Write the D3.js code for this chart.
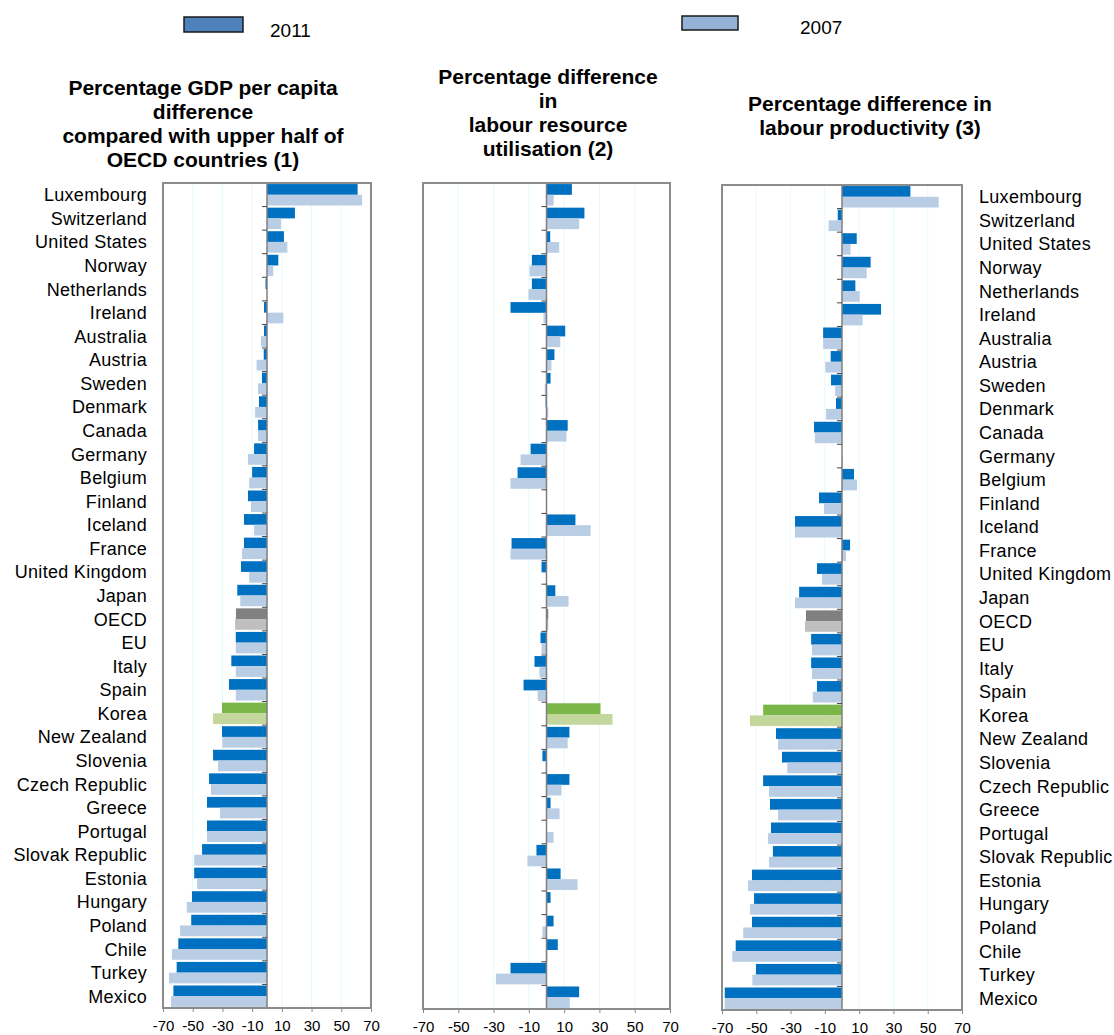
<!DOCTYPE html>
<html><head><meta charset="utf-8">
<script src="https://cdn.jsdelivr.net/npm/d3@7"></script>
<style>
body{margin:0;background:#fff;}
svg{display:block;font-family:"Liberation Sans",Arial,sans-serif;}
</style></head>
<body>
<svg id="c" width="1114" height="1035"></svg>
<script>
const countries = ["Luxembourg","Switzerland","United States","Norway","Netherlands","Ireland","Australia","Austria","Sweden","Denmark","Canada","Germany","Belgium","Finland","Iceland","France","United Kingdom","Japan","OECD","EU","Italy","Spain","Korea","New Zealand","Slovenia","Czech Republic","Greece","Portugal","Slovak Republic","Estonia","Hungary","Poland","Chile","Turkey","Mexico"];
const gdp2011 = [61,18.8,11.4,7.6,-1,-2,-2,-2.2,-3.4,-5.4,-6,-8.7,-10,-12.8,-15.5,-15.5,-17.5,-20,-20.9,-21,-24,-25.6,-30.3,-30.3,-36.3,-39,-40.4,-40.4,-43.7,-49,-50.5,-51,-59.7,-60.8,-63];
const gdp2007 = [64,9.4,13.7,4.2,0,11,-4,-7,-6,-8,-6,-12.8,-12,-10.8,-8.7,-16.8,-12,-18,-21.5,-21,-21,-21,-36.3,-30,-33,-37.7,-31.6,-40.4,-49,-47,-54,-58.5,-64,-66,-64.6];
const lru2011 = [14.4,21.5,2.1,-8.3,-8.3,-20.4,10.6,4.5,2.3,-0.5,12,-9,-16.4,0,16.4,-19.8,-2.8,5,1,-3.4,-6.8,-13,30.6,13,-2.3,13,2.3,0,-5.7,8,2.3,4,6.4,-20.4,18.5];
const lru2007 = [4.1,18.5,7.2,-9.6,-10.2,-1.7,7.8,2.8,-1,1,11.3,-14.7,-20.4,0,25,-20.4,0,12.5,1,-2.8,-4,-5,37.4,12,-0.5,8.5,7.4,4,-10.8,17.6,0.5,-2.3,0.5,-28.7,13.2];
const lp2011 = [39.9,-2.5,8.6,16.7,7.8,22.8,-11,-6.6,-6.4,-3.5,-16.3,0,7,-13.4,-27.4,4.7,-14.6,-25,-21,-18,-18,-14.6,-46,-38.5,-35,-46,-42,-41.4,-40.3,-52.5,-51.3,-52.5,-62,-50.2,-68.4];
const lp2007 = [56.4,-7.8,5,14.4,10.3,12,-11,-9.7,-4,-9.3,-15.8,0.5,8.8,-10.5,-27.4,2.3,-11.7,-27.4,-21.6,-17.5,-17.5,-17,-53.7,-37.3,-32,-42.6,-37.3,-43.2,-42.6,-54.8,-53.7,-57.6,-64,-52.3,-68.4];
const tickValues = [-70,-50,-30,-10,10,30,50,70];
const gridValues = [-50,-30,-10,10,30,50];
const seriesNames = ["2011","2007"];
const titles = [
  ["Percentage GDP per capita","difference","compared with upper half of","OECD countries (1)"],
  ["Percentage difference","in","labour resource","utilisation (2)"],
  ["Percentage difference in","labour productivity (3)"]
];

const colors = {
  normal: ["#0070C0","#B9CDE5"],
  OECD: ["#808080","#BFBFBF"],
  Korea: ["#7AB648","#C3D69B"]
};
function colorFor(c, i){ return (colors[c] || colors.normal)[i]; }

const svg = d3.select("#c");

// legend
const leg = [
  {x:184,y:17,w:59,h:15,fill:"#4F81BD",tx:270,ty:37,label:seriesNames[0]},
  {x:682,y:16,w:56,h:14,fill:"#95B3D7",tx:800,ty:34,label:seriesNames[1]}
];
leg.forEach(l=>{
  svg.append("rect").attr("x",l.x).attr("y",l.y).attr("width",l.w).attr("height",l.h)
    .attr("fill",l.fill).attr("stroke","#1a1a1a").attr("stroke-width",1.5);
  svg.append("text").attr("x",l.tx).attr("y",l.ty).attr("font-size",19).attr("fill","#000").text(l.label);
});

const panels = [
  {x0:163,x1:371,y0:183,y1:1008,d11:gdp2011,d07:gdp2007,title:titles[0],tcx:203,tby:95,labels:"left"},
  {x0:423,x1:670,y0:183,y1:1009,d11:lru2011,d07:lru2007,title:titles[1],tcx:548,tby:84,labels:null},
  {x0:722,x1:962,y0:185,y1:1010,d11:lp2011,d07:lp2007,title:titles[2],tcx:870,tby:111,labels:"right"}
];

panels.forEach(p=>{
  const g = svg.append("g");
  const x = d3.scaleLinear().domain([-70,70]).range([p.x0,p.x1]);
  const y = d3.scaleBand().domain(countries).range([p.y0,p.y1]).paddingInner(0).paddingOuter(0);
  const ys = d3.scaleBand().domain(seriesNames).range([0,y.bandwidth()]).paddingOuter(0.1).paddingInner(0);

  // gridlines
  g.selectAll(".grid").data(gridValues).join("line")
    .attr("x1",d=>x(d)).attr("x2",d=>x(d)).attr("y1",p.y0).attr("y2",p.y1)
    .attr("stroke","#E2FBFB").attr("stroke-width",1);

  // bars
  [p.d11,p.d07].forEach((arr,si)=>{
    g.selectAll(".b"+si).data(countries).join("rect")
      .attr("x",(c,i)=>x(Math.min(0,arr[i])))
      .attr("width",(c,i)=>Math.abs(x(arr[i])-x(0)))
      .attr("y",c=>y(c)+ys(seriesNames[si]))
      .attr("height",ys.bandwidth())
      .attr("fill",c=>colorFor(c,si));
  });

  // zero axis
  g.append("line").attr("x1",x(0)).attr("x2",x(0)).attr("y1",p.y0).attr("y2",p.y1)
    .attr("stroke","#7f7f7f").attr("stroke-width",1.5);
  // category ticks
  g.selectAll(".ct").data(countries).join("line")
    .attr("x1",x(0)-5).attr("x2",x(0))
    .attr("y1",c=>y(c)+y.bandwidth()).attr("y2",c=>y(c)+y.bandwidth())
    .attr("stroke","#444").attr("stroke-width",1);

  // frame
  g.append("rect").attr("x",p.x0).attr("y",p.y0).attr("width",p.x1-p.x0).attr("height",p.y1-p.y0)
    .attr("fill","none").attr("stroke","#8c8c8c").attr("stroke-width",2);

  // bottom axis
  const ax = g.append("g").attr("transform",`translate(0,${p.y1})`)
    .call(d3.axisBottom(x).tickValues(tickValues).tickSize(4).tickPadding(8).tickFormat(d=>String(d)));
  ax.select(".domain").remove();
  ax.selectAll("line").attr("stroke","#888");
  ax.selectAll("text").attr("font-size",15).attr("fill","#000")
    .attr("font-family","Liberation Sans, Arial, sans-serif");

  // title
  p.title.forEach((t,i)=>{
    svg.append("text").attr("x",p.tcx).attr("y",p.tby+i*24).attr("text-anchor","middle")
      .attr("font-size",21).attr("font-weight","bold").attr("fill","#000").text(t);
  });

  // labels
  if(p.labels){
    const lx = p.labels==="left" ? 147 : 979;
    g.selectAll(".lab").data(countries).join("text")
      .attr("x",lx).attr("y",c=>y(c)+y.bandwidth()/2)
      .attr("dy","0.36em")
      .attr("text-anchor",p.labels==="left"?"end":"start")
      .attr("letter-spacing","0.3px")
      .attr("font-size",18).attr("fill","#000").text(c=>c);
  }
});
</script>
</body></html>
